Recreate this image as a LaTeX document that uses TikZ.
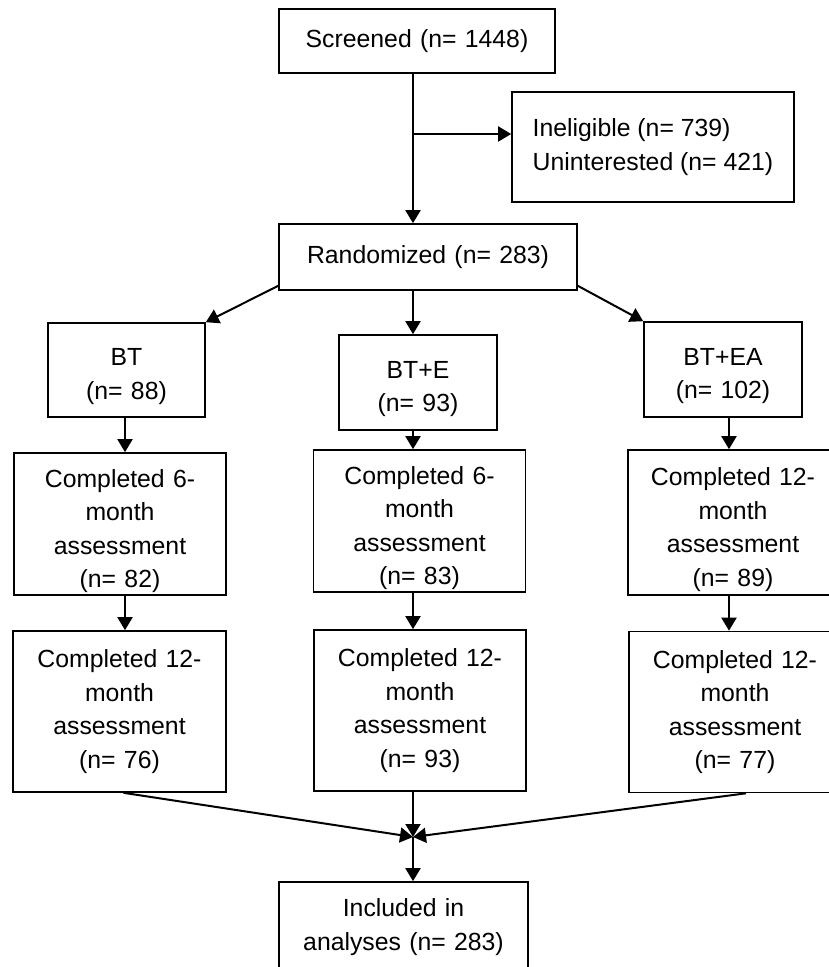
\documentclass[tikz,border=0pt]{standalone}
\usepackage{fontspec}
\setmainfont{Liberation Sans}
\usetikzlibrary{arrows.meta}
\usetikzlibrary{calc}
\newcommand{\boxfont}{\fontsize{24.8}{33.5}\selectfont}
\newcommand{\toppad}[1]{\rule{0pt}{#1pt}} % extra room above the first line
\tikzset{
	box/.style={draw, line width=1.6pt, inner sep=0pt, align=center, font=\boxfont},
	arr/.style={line width=2pt, -{Triangle[length=13pt, width=15pt]}},
	line/.style={line width=2pt}
}
\begin{document}
\begin{tikzpicture}[x=1pt, y=-1pt]
	% page: 829 x 967, y grows downwards
	\useasboundingbox (0, 0) rectangle (829, 967);
	\clip (0, 0) rectangle (829, 967);
	
	% screening
	\node[box, minimum width=276, minimum height=64, text width=266] (screened) at (417, 41) {Screened (n= 1448)};
	\node[box, minimum width=282, minimum height=110, align=left] (excluded) at (653, 147) {Ineligible (n= 739)\\Uninterested (n= 421)};
	\node[box, minimum width=298, minimum height=66, text width=288] (randomized) at (428, 257) {Randomized (n= 283)};
	
	% groups
	\node[box, minimum width=157, minimum height=94, text width=147] (bt) at (126.5, 370) {\toppad{30}BT\\(n= 88)};
	\node[box, minimum width=158, minimum height=95, text width=148] (bte) at (418, 382.5) {\toppad{30}BT+E\\(n= 93)};
	\node[box, minimum width=158, minimum height=95, text width=148] (btea) at (723, 369.5) {\toppad{30}BT+EA\\(n= 102)};
	
	% first follow-up
	\node[box, minimum width=212, minimum height=142, text width=202] (bt6) at (120, 524) {\toppad{32}Completed 6-\\month\\assessment\\(n= 82)};
	\node[box, minimum width=212, minimum height=142, text width=202] (bte6) at (419.5, 521) {\toppad{32}Completed 6-\\month\\assessment\\(n= 83)};
	\node[box, minimum width=210, minimum height=145, text width=200] (btea6) at (733, 522.5) {\toppad{32}Completed 12-\\month\\assessment\\(n= 89)};
	
	% second follow-up
	\node[box, minimum width=213, minimum height=161, text width=203] (bt12) at (119.5, 711.5) {Completed 12-\\month\\assessment\\(n= 76)};
	\node[box, minimum width=212, minimum height=161, text width=202] (bte12) at (420, 710.5) {Completed 12-\\month\\assessment\\(n= 93)};
	\node[box, minimum width=212, minimum height=161, text width=202] (btea12) at (735, 712) {Completed 12-\\month\\assessment\\(n= 77)};
	
	\node[box, minimum width=249, minimum height=90, text width=239] (included) at (403.5, 927) {Included in\\analyses (n= 283)};
	
	% column lines
	\coordinate (colA) at (125, 0);
	\coordinate (colB) at (413, 0);
	\coordinate (colC) at (729, 0);
	\coordinate (split) at (413, 134);
	\coordinate (merge) at (413, 837);
	
	\draw[arr] (screened.south -| colB) -- (randomized.north -| colB);
	\draw[arr] (split) -- (split -| excluded.west);
	
	\draw[arr] ([yshift=5pt]randomized.south west) -- (bt.north east);
	\draw[arr] (randomized.south -| colB) -- (bte.north -| colB);
	\draw[arr] ([yshift=5pt]randomized.south east) -- (btea.north west);
	
	\draw[arr] (bt.south -| colA) -- (bt6.north -| colA);
	\draw[arr] (bte.south -| colB) -- (bte6.north -| colB);
	\draw[arr] (btea.south -| colC) -- (btea6.north -| colC);
	
	\draw[arr] (bt6.south -| colA) -- (bt12.north -| colA);
	\draw[arr] (bte6.south -| colB) -- (bte12.north -| colB);
	\draw[arr] (btea6.south -| colC) -- (btea12.north -| colC);
	
	\draw[arr] ([xshift=4pt]bt12.south) -- (merge);
	\draw[arr] (bte12.south -| colB) -- (merge);
	\draw[arr] ([xshift=11pt]btea12.south) -- (merge);
	\draw[arr] (merge) -- (included.north -| merge);
\end{tikzpicture}
\end{document}
